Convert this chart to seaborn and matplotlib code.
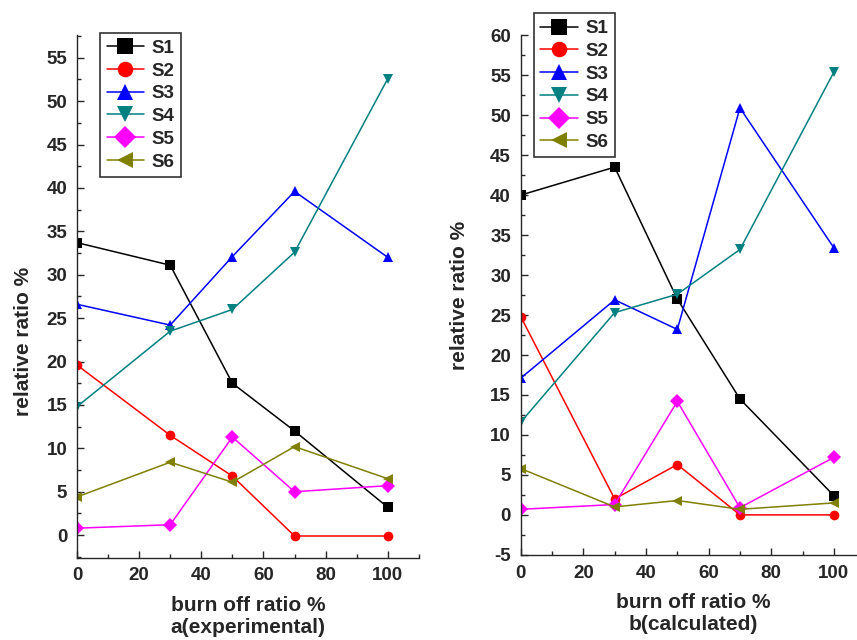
import matplotlib
import numpy as np
import pandas as pd

matplotlib.use("Agg")
import matplotlib.pyplot as plt
import seaborn as sns
from matplotlib.ticker import MultipleLocator

# burn off ratio (%) sampled in both panels
BURN_OFF = [0, 30, 50, 70, 100]
SERIES = ["S1", "S2", "S3", "S4", "S5", "S6"]

# panel a: experimental relative ratio (%)
EXP_S1 = [33.7, 31.1, 17.5, 12.0, 3.2]
EXP_S2 = [19.6, 11.5, 6.8, -0.1, -0.1]
EXP_S3 = [26.6, 24.2, 32.1, 39.6, 32.0]
EXP_S4 = [14.8, 23.5, 26.0, 32.6, 52.6]
EXP_S5 = [0.8, 1.2, 11.3, 5.0, 5.7]
EXP_S6 = [4.4, 8.4, 6.1, 10.2, 6.5]

# panel b: calculated relative ratio (%)
CAL_S1 = [40.0, 43.5, 27.0, 14.5, 2.4]
CAL_S2 = [24.8, 2.0, 6.3, 0.0, 0.0]
CAL_S3 = [17.1, 26.9, 23.2, 50.9, 33.4]
CAL_S4 = [11.6, 25.3, 27.6, 33.2, 55.4]
CAL_S5 = [0.7, 1.3, 14.2, 0.9, 7.2]
CAL_S6 = [5.8, 1.0, 1.8, 0.7, 1.5]

# tick labels
X_TICKS = [0, 20, 40, 60, 80, 100]
Y_TICKS_A = [0, 5, 10, 15, 20, 25, 30, 35, 40, 45, 50, 55]
Y_TICKS_B = [-5, 0, 5, 10, 15, 20, 25, 30, 35, 40, 45, 50, 55, 60]

COLOURS = ["black", "red", "blue", "#008080", "magenta", "#808000"]
MARKERS = ["s", "o", "^", "v", "D", "<"]


def to_long(columns):
    frames = []
    for name, values in zip(SERIES, columns):
        frames.append(pd.DataFrame({"x": BURN_OFF, "y": values, "series": name}))
    return pd.concat(frames, ignore_index=True)


sns.set_style("ticks")
plt.rcParams["font.family"] = ["Liberation Sans", "DejaVu Sans"]
plt.rcParams["font.weight"] = "bold"
plt.rcParams["axes.unicode_minus"] = False

fig = plt.figure(figsize=(8.57, 6.4), dpi=100)
ax_a = fig.add_axes([0.0898, 0.1286, 0.399, 0.8164])
ax_b = fig.add_axes([0.6076, 0.133, 0.402, 0.812])

panels = [
    (ax_a, to_long([EXP_S1, EXP_S2, EXP_S3, EXP_S4, EXP_S5, EXP_S6]),
     (-2.6, 57.6), Y_TICKS_A, "burn off ratio %\na(experimental)",
     (0.04, 1.022), (-0.128, 0.413)),
    (ax_b, to_long([CAL_S1, CAL_S2, CAL_S3, CAL_S4, CAL_S5, CAL_S6]),
     (-5, 60), Y_TICKS_B, "burn off ratio %\nb(calculated)",
     (0.01, 1.06), (-0.15, 0.5)),
]

for ax, df, ylim, yticks, xlabel, leg_anchor, ylab_pos in panels:
    sns.lineplot(
        data=df, x="x", y="y", hue="series", style="series",
        palette=COLOURS, markers=MARKERS, dashes=False,
        markersize=7, linewidth=1.1, markeredgewidth=0,
        ax=ax, legend=True,
    )
    ax.set_xticks(X_TICKS)
    ax.set_xticklabels([str(t) for t in X_TICKS], fontweight="bold")
    ax.set_yticks(yticks)
    ax.set_yticklabels([str(t) for t in yticks], fontweight="bold")
    ax.xaxis.set_minor_locator(MultipleLocator(10))
    ax.yaxis.set_minor_locator(MultipleLocator(2.5))
    ax.set_xlim(0, 110)
    ax.set_ylim(*ylim)
    ax.tick_params(which="both", direction="in", width=1.0, labelsize=13.5)
    ax.tick_params(which="major", length=5)
    ax.tick_params(which="minor", length=3)
    ax.tick_params(axis="both", pad=7)
    sns.despine(ax=ax)
    ax.spines["left"].set_linewidth(1.0)
    ax.spines["bottom"].set_linewidth(1.0)
    ax.set_xlabel(xlabel, fontsize=15, fontweight="bold", linespacing=1.25, labelpad=8)
    ax.set_ylabel("relative ratio %", fontsize=15, fontweight="bold")
    ax.yaxis.set_label_coords(*ylab_pos)
    leg = ax.legend(
        loc="upper left", bbox_to_anchor=leg_anchor, frameon=True,
        fancybox=False, edgecolor="black", fontsize=13.5, markerscale=1.6,
        handlelength=2.0, handletextpad=0.4, borderpad=0.35, labelspacing=0.3,
    )
    leg.get_frame().set_linewidth(1.2)
    for txt in leg.get_texts():
        txt.set_fontweight("bold")

fig.savefig("out.png", dpi=100)
